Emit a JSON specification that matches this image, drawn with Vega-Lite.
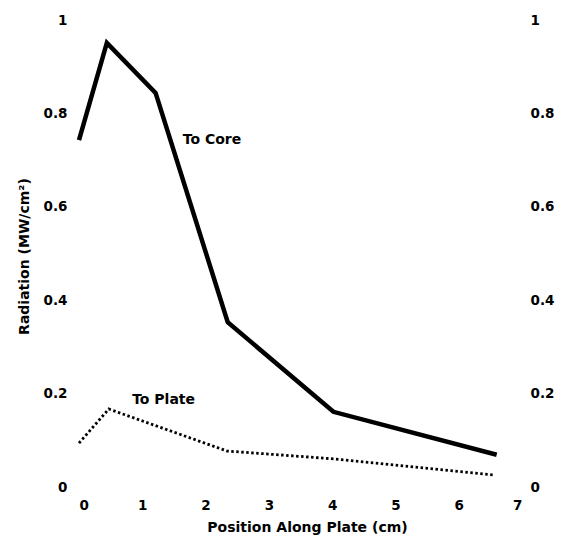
{
  "$schema": "https://vega.github.io/schema/vega-lite/v6.json",
  "width": 443,
  "height": 467,
  "autosize": {"type": "none"},
  "padding": {"left": 79, "top": 20, "right": 42, "bottom": 50},
  "background": "white",
  "config": {
    "view": {"stroke": null},
    "font": "DejaVu Sans",
    "axis": {
      "labelFont": "DejaVu Sans", "labelFontWeight": "bold", "labelFontSize": 13.5, "labelColor": "black",
      "titleFont": "DejaVu Sans", "titleFontWeight": "bold", "titleFontSize": 14, "titleColor": "black",
      "domain": false, "ticks": false, "grid": false
    },
    "text": {"font": "DejaVu Sans", "fontWeight": "bold", "fontSize": 14, "color": "black"}
  },
  "datasets": {
    "lines": [
      {"series": "To Core", "x": 0, "y": 0.743},
      {"series": "To Core", "x": 0.44, "y": 0.951},
      {"series": "To Core", "x": 1.21, "y": 0.844},
      {"series": "To Core", "x": 2.35, "y": 0.353},
      {"series": "To Core", "x": 4.02, "y": 0.161},
      {"series": "To Core", "x": 6.6, "y": 0.069},
      {"series": "To Plate", "x": 0, "y": 0.094},
      {"series": "To Plate", "x": 0.47, "y": 0.167},
      {"series": "To Plate", "x": 2.34, "y": 0.077},
      {"series": "To Plate", "x": 4.05, "y": 0.06},
      {"series": "To Plate", "x": 6.55, "y": 0.026}
    ],
    "labels": [
      {"label": "To Core", "x": 1.64, "y": 0.743},
      {"label": "To Plate", "x": 0.84, "y": 0.186}
    ]
  },
  "encoding": {
    "x": {"field": "x", "type": "quantitative", "scale": {"domain": [0, 7], "nice": false},
          "axis": {"title": "Position Along Plate (cm)", "values": [0,1,2,3,4,5,6,7], "format": "~g", "labelPadding": 11, "titleX": 228, "titleY": 40, "titleBaseline": "middle"}}
  },
  "layer": [
    {
      "data": {"name": "lines"},
      "transform": [{"filter": "datum.series === 'To Core'"}],
      "mark": {"type": "line", "color": "black", "strokeWidth": 4.5, "strokeJoin": "miter"},
      "encoding": {
        "y": {"field": "y", "type": "quantitative", "scale": {"domain": [0, 1], "nice": false},
              "axis": {"title": "Radiation (MW/cm²)", "values": [0,0.2,0.4,0.6,0.8,1], "format": "~g", "labelPadding": 12, "titleX": -55, "titleY": 236, "titleBaseline": "middle", "orient": "left"}}
      }
    },
    {
      "data": {"name": "lines"},
      "transform": [{"filter": "datum.series === 'To Plate'"}],
      "mark": {"type": "line", "color": "black", "strokeWidth": 2.8, "strokeDash": [2.5, 2.5]},
      "encoding": {
        "y": {"field": "y", "type": "quantitative",
              "axis": {"title": null, "values": [0,0.2,0.4,0.6,0.8,1], "format": "~g", "labelPadding": 8, "orient": "right", "labelAlign": "left"}}
      }
    },
    {
      "data": {"name": "labels"},
      "mark": {"type": "text", "align": "left", "baseline": "middle"},
      "encoding": {
        "y": {"field": "y", "type": "quantitative", "axis": null},
        "text": {"field": "label"}
      }
    }
  ],
  "resolve": {"axis": {"y": "independent"}}
}
